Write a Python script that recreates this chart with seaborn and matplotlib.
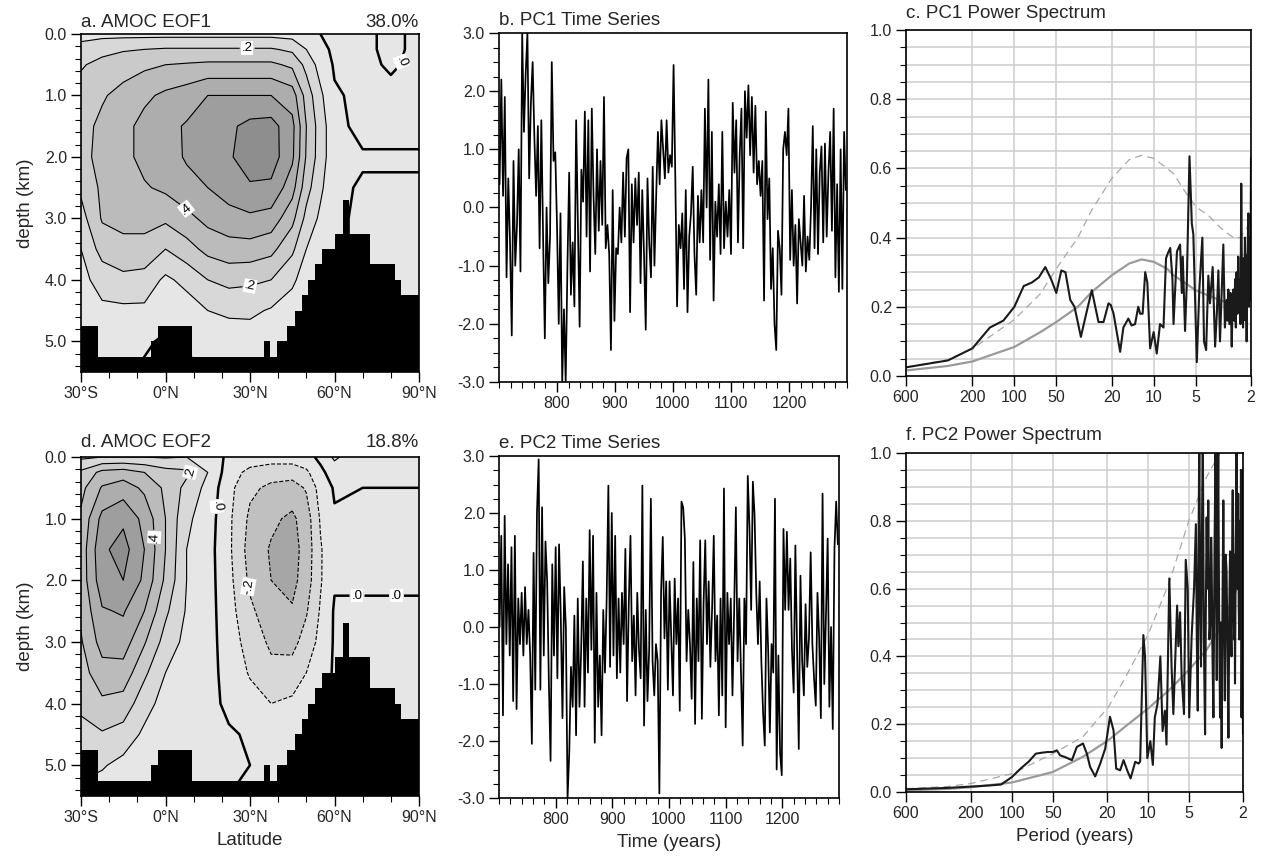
import numpy as np
import matplotlib
matplotlib.use("Agg")
import matplotlib.pyplot as plt
import seaborn as sns
from matplotlib.ticker import MultipleLocator, FixedLocator, FixedFormatter, NullLocator, FormatStrFormatter

sns.set_theme(style="white")
plt.rcParams['font.family'] = ['Liberation Sans', 'DejaVu Sans']
plt.rcParams['axes.unicode_minus'] = False

# ---------------- data: AMOC EOF fields (columns = latitude, values down depth) -------------
lat = [-30, -22.5, -15, -7.5, 0, 7.5, 15, 22.5, 30, 37.5, 45, 50, 55, 60, 70, 80, 90]
depth = [0, 0.25, 0.5, 1, 1.5, 2, 2.5, 3, 3.5, 4, 4.5, 5, 5.5]

eof1_cols = [
    [0.06, 0.14, 0.19, 0.24, 0.27, 0.27, 0.22, 0.16, 0.10, 0.07, 0.05, 0.04, 0.03],
    [0.07, 0.17, 0.23, 0.29, 0.32, 0.33, 0.32, 0.31, 0.24, 0.14, 0.08, 0.05, 0.03],
    [0.07, 0.19, 0.26, 0.33, 0.37, 0.37, 0.35, 0.32, 0.28, 0.17, 0.08, 0.05, 0.03],
    [0.07, 0.20, 0.28, 0.38, 0.43, 0.43, 0.39, 0.33, 0.27, 0.16, 0.08, 0.01, -0.01],
    [0.07, 0.21, 0.30, 0.42, 0.47, 0.46, 0.42, 0.32, 0.20, 0.08, 0.03, -0.01, -0.02],
    [0.07, 0.21, 0.31, 0.45, 0.51, 0.51, 0.47, 0.37, 0.26, 0.13, 0.05, 0.01, -0.01],
    [0.07, 0.21, 0.32, 0.50, 0.54, 0.55, 0.50, 0.43, 0.33, 0.20, 0.10, 0.02, -0.01],
    [0.07, 0.21, 0.32, 0.50, 0.58, 0.59, 0.55, 0.46, 0.36, 0.23, 0.12, 0.04, 0.01],
    [0.07, 0.21, 0.32, 0.50, 0.63, 0.64, 0.59, 0.48, 0.36, 0.22, 0.12, 0.05, 0.01],
    [0.07, 0.21, 0.32, 0.50, 0.64, 0.65, 0.58, 0.46, 0.33, 0.20, 0.09, 0.03, 0.01],
    [0.06, 0.18, 0.28, 0.45, 0.53, 0.52, 0.44, 0.33, 0.22, 0.12, 0.05, 0.02, 0.01],
    [0.03, 0.10, 0.17, 0.26, 0.30, 0.29, 0.24, 0.17, 0.10, 0.05, 0.02, 0.01, 0.00],
    [0.00, 0.03, 0.06, 0.12, 0.15, 0.15, 0.12, 0.08, 0.04, 0.02, 0.01, 0.00, 0.00],
    [-0.03, -0.02, -0.01, 0.01, 0.03, 0.03, 0.02, 0.01, 0.01, 0.01, 0.01, 0.00, 0.00],
    [-0.02, -0.02, -0.02, -0.02, -0.03, 0.01, -0.01, -0.01, -0.01, -0.01, -0.01, 0.00, 0.00],
    [0.02, 0.02, 0.01, -0.02, -0.03, 0.01, -0.01, -0.01, -0.01, -0.01, -0.01, 0.00, 0.00],
    [-0.02, -0.02, -0.02, -0.02, -0.03, 0.01, -0.01, -0.01, -0.01, -0.01, -0.01, 0.00, 0.00],
]

eof2_cols = [
    [0.08, 0.22, 0.27, 0.32, 0.34, 0.34, 0.32, 0.29, 0.26, 0.22, 0.17, 0.12, 0.08],
    [0.10, 0.33, 0.41, 0.53, 0.58, 0.56, 0.49, 0.44, 0.36, 0.28, 0.19, 0.11, 0.05],
    [0.10, 0.35, 0.45, 0.58, 0.64, 0.60, 0.51, 0.45, 0.36, 0.26, 0.16, 0.07, 0.04],
    [0.10, 0.30, 0.38, 0.47, 0.50, 0.48, 0.40, 0.31, 0.22, 0.14, 0.08, 0.04, 0.02],
    [0.09, 0.24, 0.28, 0.30, 0.30, 0.28, 0.22, 0.16, 0.10, 0.06, 0.04, 0.02, 0.01],
    [0.10, 0.22, 0.17, 0.12, 0.10, 0.10, 0.09, 0.07, 0.06, 0.05, 0.04, 0.02, 0.01],
    [0.06, 0.10, 0.07, 0.05, 0.04, 0.04, 0.04, 0.04, 0.03, 0.03, 0.02, 0.01, 0.01],
    [-0.02, -0.05, -0.07, -0.08, -0.08, -0.07, -0.06, -0.05, -0.03, -0.02, 0.01, 0.01, 0.00],
    [-0.04, -0.13, -0.18, -0.22, -0.24, -0.22, -0.18, -0.14, -0.11, -0.06, -0.01, 0.00, 0.00],
    [-0.05, -0.16, -0.22, -0.28, -0.31, -0.30, -0.26, -0.22, -0.17, -0.10, -0.04, -0.01, 0.00],
    [-0.05, -0.16, -0.24, -0.32, -0.34, -0.33, -0.29, -0.23, -0.16, -0.08, -0.03, 0.00, 0.00],
    [-0.03, -0.12, -0.19, -0.25, -0.26, -0.25, -0.21, -0.16, -0.10, -0.04, -0.01, 0.00, 0.00],
    [0.02, -0.02, -0.06, -0.09, -0.11, -0.11, -0.09, -0.07, -0.04, -0.01, 0.00, 0.00, 0.00],
    [0.12, 0.04, 0.01, -0.01, -0.02, -0.01, 0.01, 0.01, 0.01, 0.01, 0.01, 0.00, 0.00],
    [0.01, 0.01, 0.00, -0.01, -0.01, -0.01, 0.01, 0.01, 0.01, 0.01, 0.01, 0.00, 0.00],
    [0.01, 0.01, 0.00, -0.01, -0.01, -0.01, 0.01, 0.01, 0.01, 0.01, 0.01, 0.00, 0.00],
    [0.01, 0.01, 0.00, -0.01, -0.01, -0.01, 0.01, 0.01, 0.01, 0.01, 0.01, 0.00, 0.00],
]

# ocean-bottom topography (step edges in latitude, top of the black mask in km)
topo_edges = [-30, -24, -5, -2.5, 9.5, 35, 37, 39.5, 43, 46, 48.5, 50.5, 53, 55.5, 60, 63, 65, 72.5, 81.5, 83.5, 90]
topo_top = [4.75, 5.25, 5.0, 4.75, 5.25, 5.0, 5.25, 5.0, 4.75, 4.5, 4.25, 4.0, 3.75, 3.5, 3.25, 2.7, 3.25, 3.75, 4.0, 4.25]

# ---------------- data: principal-component time series (every 3rd year from 701) ----------
pc_start, pc_step = 701, 3
pc1_vals = [
    0.4, 2.2, 0.2, 1.9, -1.2, 0.5, -0.6, -2.2, 0.8, -1.0,
    -0.3, 1.0, -1.1, 3.0, 1.3, 2.3, 3.0, 0.5, 1.8, 2.5,
    1.2, 0.2, 1.4, -0.7, 1.5, -0.5, -2.25, 0.0, -1.3, -0.5,
    2.5, 0.8, 0.95, -0.3, -2.0, -0.1, -3.0, -1.75, -3.0, -1.0,
    0.6, -1.5, -0.6, -1.7, 1.5, -0.3, -2.05, 0.65, 0.1, 1.65,
    -0.5, 1.5, -1.1, 1.7, 0.2, -0.8, 1.0, -0.4, 0.8, -0.3,
    1.9, -0.7, -0.3, -0.8, -2.45, 0.3, -1.95, -0.7, -0.8, 0.0,
    -0.6, 0.6, -0.5, 0.85, 1.0, -1.8, 0.4, -0.6, 0.5, -0.3,
    0.6, -1.3, 0.3, -0.8, -2.1, 0.5, -0.6, -1.2, 0.7, -1.0,
    0.2, 1.3, 0.4, 1.5, 1.0, 0.5, 1.5, 0.6, 0.9, 0.7,
    2.45, 0.5, -1.7, -0.3, -0.7, -0.1, -1.4, 0.3, -1.8, -0.5,
    -0.1, 0.7, -0.8, -1.5, 0.2, -0.6, 0.3, -0.6, 1.7, 0.0,
    2.2, -0.9, 1.3, -1.6, 0.1, -0.5, 0.4, -0.8, 1.3, -0.7,
    0.1, -0.5, 0.3, -0.8, 1.8, 0.6, 1.5, -0.6, 0.9, 1.7,
    -0.7, 2.0, 1.2, 2.1, 0.9, 1.9, 0.6, 1.75, 0.4, 0.8,
    0.2, 0.8, -1.6, 1.65, -0.2, 0.5, -1.4, -0.7, -2.0, -2.45,
    -0.4, -0.7, -1.5, 1.0, 1.3, 0.9, 1.7, -0.9, 0.3, -1.0,
    -0.3, -1.65, -0.2, -0.6, -1.0, 0.2, -1.1, -0.5, -0.9, 0.0,
    1.4, -0.7, 1.0, -0.8, 0.6, 1.05, -0.6, 1.1, -0.5, 0.6,
    1.3, -0.4, 1.7, -1.2, 0.4, -1.45, 1.0, -1.4, 1.3, 0.3,
]
pc2_vals = [
    0.0, 1.6, -1.55, 1.95, -0.3, 1.1, -0.5, 1.4, -1.3, 1.6,
    -1.44, 0.5, -0.3, 0.6, -0.5, 0.7, -0.3, 0.3, -0.5, -2.05,
    1.3, -1.1, 2.0, 2.94, -1.1, 2.1, -0.5, 1.5, 0.8, -0.97,
    -2.35, 1.1, -0.5, 1.4, -0.9, 1.45, 0.2, -1.6, 0.7, 0.0,
    -3.0, -2.2, -0.7, -1.4, 0.2, -1.9, 0.5, -1.4, -0.4, 1.15,
    -1.4, 0.5, -0.8, 1.7, -0.4, 1.6, -2.03, 0.6, -1.4, -0.5,
    -1.9, 0.3, -0.8, 0.5, 2.48, -0.7, 2.0, -0.5, 1.6, -0.9,
    0.5, -0.8, 0.6, -0.3, 1.37, -1.3, 0.4, 1.6, -0.6, 0.2,
    -1.2, 0.6, -0.4, -0.9, 2.48, -1.73, 0.3, -1.3, -0.4, 2.25,
    -0.6, -1.2, -0.3, -0.6, -2.92, 0.6, 1.58, -0.2, 0.8, -1.1,
    0.8, -0.2, -1.2, 0.85, -0.3, 0.5, -1.47, 2.2, 2.1, 1.55,
    -0.6, 0.3, -0.3, -1.26, 1.14, -1.7, 0.5, -0.6, 1.52, -1.61,
    0.4, 1.52, -0.3, 0.8, -0.7, 0.3, 1.6, -0.6, 0.2, -1.55,
    0.5, -1.2, 2.43, -1.76, 0.6, -0.3, 0.5, -1.2, 0.3, 2.1,
    -0.6, 0.5, -0.8, -2.08, 0.5, -0.3, 2.65, 1.75, 0.3, 2.55,
    1.96, 0.6, -0.3, 0.8, -0.6, -1.5, -2.08, 0.5, -0.4, -1.85,
    -0.3, -0.8, 2.25, -2.5, -0.5, -2.2, -2.6, 1.72, 0.3, 1.67,
    0.3, 1.2, -0.4, -1.15, 1.43, -0.3, -2.14, 0.9, -0.6, -1.2,
    0.4, -0.7, -0.2, 1.31, -0.3, -0.9, -1.38, 0.6, -0.2, -1.6,
    2.34, -1.0, 0.2, 1.55, -1.4, 0.0, -1.79, 1.37, 2.2, 1.45,
]

# ---------------- data: power spectra (period in years, normalised power) ----------------
spec1_period = [600, 300, 200, 150, 120, 100, 85.7, 75, 66.7, 60,
                54.5, 50, 46, 43, 39.7, 37, 33.3, 30.5, 27.8, 24.9,
                22.9, 21.1, 20.3, 19.4, 17.4, 16.5, 15.2, 14.4, 13.6, 12.9,
                12.5, 12.0, 11.5, 11.1, 10.6, 10.0, 9.5, 9.0, 8.5, 8.15,
                7.9, 7.6, 7.33, 7.2, 6.8, 6.46, 6.28, 6.18, 5.95, 5.78,
                5.53, 5.32, 5.19, 4.9, 4.7, 4.47, 4.35, 4.2, 4.05, 3.94,
                3.77, 3.62, 3.52, 3.43, 3.34, 3.16, 3.08, 2.99, 2.95, 2.91,
                2.86, 2.80, 2.75, 2.71, 2.68, 2.64, 2.60, 2.57, 2.54, 2.50,
                2.47, 2.44, 2.41, 2.38, 2.35, 2.32, 2.30, 2.28, 2.26, 2.24,
                2.21, 2.19, 2.17, 2.15, 2.13, 2.11, 2.09, 2.07, 2.06, 2.04,
                2.02, 2.0]
spec1_power = [0.025, 0.045, 0.08, 0.14, 0.16, 0.20, 0.26, 0.27, 0.285, 0.315,
               0.28, 0.24, 0.305, 0.30, 0.22, 0.20, 0.113, 0.18, 0.248, 0.156,
               0.156, 0.21, 0.205, 0.18, 0.07, 0.14, 0.166, 0.146, 0.15, 0.20,
               0.18, 0.18, 0.30, 0.27, 0.08, 0.127, 0.065, 0.15, 0.14, 0.34,
               0.355, 0.37, 0.28, 0.15, 0.36, 0.38, 0.24, 0.345, 0.13, 0.27,
               0.635, 0.44, 0.41, 0.04, 0.25, 0.40, 0.10, 0.075, 0.29, 0.21,
               0.315, 0.085, 0.18, 0.305, 0.10, 0.38, 0.14, 0.22, 0.16, 0.25,
               0.15, 0.24, 0.085, 0.22, 0.25, 0.16, 0.28, 0.14, 0.30, 0.18,
               0.345, 0.20, 0.28, 0.15, 0.556, 0.25, 0.18, 0.14, 0.34, 0.20,
               0.40, 0.16, 0.35, 0.10, 0.30, 0.38, 0.47, 0.20, 0.25, 0.40,
               0.22, 0.63]
spec2_period = [600, 300, 200, 150, 120, 100, 85.7, 75, 66.7, 60,
                54.5, 50, 46.7, 44.2, 40.6, 36.2, 33.3, 30, 28.1, 26.6,
                24.4, 22.4, 20.6, 19.0, 17.9, 17.1, 16.0, 15.1, 14.2, 13.4,
                12.4, 11.7, 11.4, 10.8, 10.5, 10.1, 9.6, 9.2, 8.9, 8.5,
                8.1, 7.8, 7.5, 7.3, 6.96, 6.7, 6.5, 6.1, 5.97, 5.8,
                5.65, 5.43, 5.27, 5.1, 4.97, 4.77, 4.58, 4.44, 4.37, 4.3,
                4.25, 4.19, 4.13, 4.07, 4.01, 3.95, 3.88, 3.8, 3.75, 3.7,
                3.65, 3.6, 3.53, 3.46, 3.43, 3.4, 3.35, 3.3, 3.24, 3.18,
                3.15, 3.12, 3.08, 3.04, 3.0, 2.95, 2.91, 2.87, 2.83, 2.79,
                2.75, 2.72, 2.68, 2.64, 2.60, 2.56, 2.52, 2.49, 2.46, 2.43,
                2.40, 2.38, 2.35, 2.33, 2.31, 2.29, 2.26, 2.23, 2.20, 2.17,
                2.15, 2.13, 2.11, 2.10, 2.08, 2.07, 2.05, 2.03, 2.02, 2.01,
                2.0]
spec2_power = [0.008, 0.012, 0.016, 0.019, 0.022, 0.044, 0.07, 0.09, 0.113, 0.116,
               0.118, 0.118, 0.123, 0.108, 0.103, 0.094, 0.133, 0.143, 0.113, 0.074,
               0.046, 0.084, 0.128, 0.222, 0.182, 0.069, 0.064, 0.094, 0.064, 0.04,
               0.089, 0.084, 0.09, 0.463, 0.40, 0.10, 0.15, 0.08, 0.22, 0.26,
               0.40, 0.18, 0.24, 0.14, 0.63, 0.37, 0.23, 0.55, 0.43, 0.53,
               0.34, 0.23, 0.685, 0.60, 0.22, 0.46, 0.60, 0.79, 0.45, 0.24,
               0.70, 1.05, 0.55, 0.37, 0.75, 1.05, 0.45, 0.17, 0.55, 0.81,
               0.60, 0.86, 0.45, 0.52, 0.75, 0.67, 0.40, 0.22, 0.70, 1.05,
               0.60, 0.33, 0.70, 1.0, 0.55, 0.22, 0.50, 0.13, 0.55, 0.86,
               0.50, 0.27, 0.70, 0.65, 0.40, 0.16, 0.55, 0.71, 0.50, 0.40,
               0.75, 0.89, 0.60, 0.45, 0.70, 0.32, 0.75, 1.05, 0.60, 0.88,
               0.55, 0.45, 0.80, 0.50, 0.70, 0.95, 0.22, 0.60, 0.95, 0.40,
               0.17]

rn1_period = [600, 300, 200, 100, 65, 50, 35, 27.8, 20, 15, 12.2, 10, 8, 7.2, 6, 5, 4, 3.34, 3, 2.68, 2.4, 2.2, 2.0]
rn1_power = [0.016, 0.029, 0.042, 0.084, 0.127, 0.156, 0.20, 0.243, 0.291, 0.325, 0.337, 0.33, 0.31, 0.291, 0.27, 0.248, 0.232, 0.219, 0.214, 0.212, 0.214, 0.222, 0.238]
sig1_power = [0.026, 0.047, 0.079, 0.163, 0.238, 0.31, 0.40, 0.48, 0.571, 0.625, 0.638, 0.629, 0.60, 0.585, 0.535, 0.49, 0.462, 0.43, 0.415, 0.40, 0.40, 0.42, 0.45]
rn2_period = [600, 300, 200, 100, 50, 30, 19.5, 15, 10, 7, 5, 3.7, 3.0, 2.45, 2.0]
rn2_power = [0.005, 0.009, 0.014, 0.028, 0.059, 0.104, 0.153, 0.19, 0.246, 0.30, 0.36, 0.42, 0.478, 0.557, 0.645]
sig2_power = [0.01, 0.016, 0.025, 0.054, 0.113, 0.163, 0.251, 0.33, 0.463, 0.616, 0.80, 0.93, 0.995, 1.12, 1.3]

# ---------------- styling ----------------
fill_levels = [-1.0, -0.3, -0.2, -0.1, 0.1, 0.2, 0.3, 0.4, 0.5, 0.6, 1.0]
fill_colors = ['#a6a6a6', '#c0c0c0', '#d8d8d8', '#e6e6e6', '#d8d8d8', '#cacaca',
               '#bbbbbb', '#adadad', '#9e9e9e', '#8e8e8e']
line_levels = [-0.3, -0.2, -0.1, 0.0, 0.1, 0.2, 0.3, 0.4, 0.5, 0.6]
TICK_FS = 11.5
LAB_FS = 13.5
TIT_FS = 13.5

W, H = 1266, 859
fig = plt.figure(figsize=(W / 100, H / 100), dpi=100)


def add_ax(l, t, r, b):
    return fig.add_axes([l / W, 1 - b / H, (r - l) / W, (b - t) / H])


ax_a = add_ax(81, 34, 419, 372)
ax_d = add_ax(81, 457, 419, 796)
ax_b = add_ax(499, 33, 847, 382)
ax_e = add_ax(499, 456, 839, 798)
ax_c = add_ax(906, 30, 1251, 376)
ax_f = add_ax(906, 453, 1243, 792)


def base_style(ax):
    for s in ax.spines.values():
        s.set_visible(True)
        s.set_color('black')
        s.set_linewidth(1.2)
    ax.tick_params(which='major', direction='out', length=7, width=1.0, color='black',
                   labelsize=TICK_FS, bottom=True, left=True, top=False, right=False, pad=3)
    ax.tick_params(which='minor', direction='out', length=4, width=0.8, color='black',
                   bottom=True, left=True, top=False, right=False)


def fmt_lab(v):
    return f"{v:.1f}".replace("0.", ".", 1)


def eof_panel(ax, cols, tl, tr, pad, lab_specs, xlabel=None):
    Z = np.array(cols).T
    ax.contourf(lat, depth, Z, levels=fill_levels, colors=fill_colors, zorder=1)
    sets = {}
    for lev in line_levels:
        if lev < 0:
            cs = ax.contour(lat, depth, Z, levels=[lev], colors='black', linewidths=0.8,
                            linestyles='dashed', zorder=2)
        elif lev == 0:
            cs = ax.contour(lat, depth, Z, levels=[lev], colors='black', linewidths=1.8,
                            linestyles='solid', zorder=2)
        else:
            cs = ax.contour(lat, depth, Z, levels=[lev], colors='black', linewidths=0.8,
                            linestyles='solid', zorder=2)
        sets[lev] = cs
    ax.fill_between(topo_edges, topo_top + [topo_top[-1]], 5.5, step='post',
                    color='black', lw=0, zorder=3)
    for lev, pts in lab_specs:
        try:
            txts = ax.clabel(sets[lev], manual=pts, inline=True, fmt=fmt_lab,
                             fontsize=9.5, inline_spacing=2)
        except Exception:
            txts = []
        for t in txts:
            t.set_bbox(dict(facecolor='white', edgecolor='none', pad=0.6))
            t.set_zorder(5)
    ax.set_xlim(-30, 90)
    ax.set_ylim(5.5, 0)
    base_style(ax)
    ax.xaxis.set_major_locator(FixedLocator([-30, 0, 30, 60, 90]))
    ax.xaxis.set_major_formatter(FixedFormatter(['30°S', '0°N', '30°N', '60°N', '90°N']))
    ax.xaxis.set_minor_locator(MultipleLocator(10))
    ax.yaxis.set_major_locator(MultipleLocator(1.0))
    ax.yaxis.set_minor_locator(MultipleLocator(0.2))
    ax.yaxis.set_major_formatter(FormatStrFormatter('%.1f'))
    ax.set_ylabel('depth (km)', fontsize=LAB_FS, labelpad=8)
    if xlabel:
        ax.set_xlabel(xlabel, fontsize=LAB_FS, labelpad=5)
    ax.set_title(tl, loc='left', fontsize=TIT_FS, pad=pad)
    ax.set_title(tr, loc='right', fontsize=TIT_FS, pad=pad)


eof_panel(ax_a, eof1_cols, 'a. AMOC EOF1', '38.0%', 5,
          [(0.2, [(29, 0.25)]), (0.4, [(8, 2.8)]), (0.2, [(30, 4.1)]), (0.0, [(80, 0.4)])])
eof_panel(ax_d, eof2_cols, 'd. AMOC EOF2', '18.8%', 7,
          [(0.2, [(10, 0.25)]), (0.0, [(17.5, 0.8)]), (0.4, [(-3, 1.3)]),
           (-0.2, [(30, 2.1)]), (0.0, [(68, 2.3)]), (0.0, [(82, 2.3)])],
          xlabel='Latitude')


def ts_panel(ax, vals, title, pad, xlabel=None):
    years = pc_start + pc_step * np.arange(len(vals))
    sns.lineplot(x=years, y=vals, ax=ax, color='black', linewidth=1.25,
                 sort=False, estimator=None)
    ax.set_xlim(700, 1300)
    ax.set_ylim(-3, 3)
    base_style(ax)
    ax.xaxis.set_major_locator(FixedLocator([800, 900, 1000, 1100, 1200]))
    ax.xaxis.set_minor_locator(MultipleLocator(20))
    ax.yaxis.set_major_locator(MultipleLocator(1.0))
    ax.yaxis.set_minor_locator(MultipleLocator(0.25))
    ax.yaxis.set_major_formatter(FormatStrFormatter('%.1f'))
    ax.set_ylabel('')
    ax.set_xlabel(xlabel if xlabel else '', fontsize=LAB_FS, labelpad=5)
    ax.set_title(title, loc='left', fontsize=TIT_FS, pad=pad)


ts_panel(ax_b, pc1_vals, 'b. PC1 Time Series', 6)
ts_panel(ax_e, pc2_vals, 'e. PC2 Time Series', 6, xlabel='Time (years)')


def spec_panel(ax, per, pw, rper, rn, sig, title, pad, xlabel=None):
    ax.set_xscale('log')
    ax.set_axisbelow(True)
    sns.lineplot(x=rper, y=sig, ax=ax, color='#a8a8a8', linewidth=0.9,
                 linestyle=(0, (6, 4)), sort=False, estimator=None)
    sns.lineplot(x=rper, y=rn, ax=ax, color='#9a9a9a', linewidth=1.6,
                 sort=False, estimator=None)
    sns.lineplot(x=per, y=pw, ax=ax, color='#1a1a1a', linewidth=1.5,
                 sort=False, estimator=None)
    ax.set_xlim(600, 2)
    ax.set_ylim(0, 1)
    base_style(ax)
    ax.xaxis.set_major_locator(FixedLocator([600, 200, 100, 50, 20, 10, 5, 2]))
    ax.xaxis.set_major_formatter(FixedFormatter(['600', '200', '100', '50', '20', '10', '5', '2']))
    ax.xaxis.set_minor_locator(NullLocator())
    ax.yaxis.set_major_locator(MultipleLocator(0.2))
    ax.yaxis.set_minor_locator(MultipleLocator(0.05))
    ax.yaxis.set_major_formatter(FormatStrFormatter('%.1f'))
    ax.grid(True, axis='x', which='major', color='#cdcdcd', linewidth=1.1)
    ax.grid(True, axis='y', which='both', color='#cdcdcd', linewidth=1.1)
    ax.set_ylabel('')
    ax.set_xlabel(xlabel if xlabel else '', fontsize=LAB_FS, labelpad=5)
    ax.set_title(title, loc='left', fontsize=TIT_FS, pad=pad)


spec_panel(ax_c, spec1_period, spec1_power, rn1_period, rn1_power, sig1_power,
           'c. PC1 Power Spectrum', 9)
spec_panel(ax_f, spec2_period, spec2_power, rn2_period, rn2_power, sig2_power,
           'f. PC2 Power Spectrum', 9, xlabel='Period (years)')

fig.savefig('out.png', dpi=100)
